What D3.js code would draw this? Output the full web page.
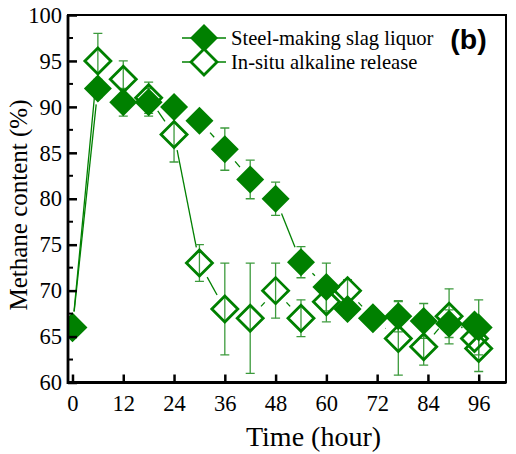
<!DOCTYPE html>
<html>
<head>
<meta charset="utf-8">
<script src="https://cdn.jsdelivr.net/npm/d3@7"></script>
<style>
  body { margin: 0; background: #fff; }
  svg { display: block; }
  text { font-family: "Liberation Serif", "Times New Roman", serif; fill: #000; }
</style>
</head>
<body>
<svg width="516" height="454"></svg>
<script>
// steel-making slag liquor (filled diamonds)
const slagTime = [0, 6, 12, 18, 24, 30, 36, 42, 48, 54, 60, 65, 71, 77, 83, 89, 95, 96];
const slagValue = [66, 92, 90.5, 90.5, 90, 88.5, 85.4, 82.1, 80, 73.1, 70.4, 68, 67, 67.2, 66.7, 66.4, 66.3, 66];
const slagErr = [1, 1, 1.5, 1.5, 0.8, 0.8, 2.3, 2.1, 1.8, 1.7, 2.6, 1, 0.5, 1.7, 1.9, 1.5, 0, 3];

// in-situ alkaline release (hollow diamonds)
const alkTime = [0, 6, 12, 18, 24, 30, 36, 42, 48, 54, 60, 65, 71, 77, 83, 89, 95, 96];
const alkValue = [66, 95, 93, 91, 87, 73, 68, 67, 70, 67, 68.8, 70, 67, 64.8, 63.9, 67.2, 64.8, 63.7];
const alkErr = [1, 3, 2, 1.7, 3, 2, 5, 6, 3, 2, 2.2, 1.2, 0.5, 4, 2, 3, 0, 2.5];

const xTicks = [0, 12, 24, 36, 48, 60, 72, 84, 96];
const yTicks = [60, 65, 70, 75, 80, 85, 90, 95, 100];
const yMinor = [62.5, 67.5, 72.5, 77.5, 82.5, 87.5, 92.5, 97.5];
const legendLabels = ['Steel-making slag liquor', 'In-situ alkaline release'];

const green = '#008000';
const errGreen = '#3c9a3c';
const plotLeft = 68;
const plotRight = 506;
const plotTop = 15;
const plotBottom = 382.5;
const half = 14;

const svg = d3.select('svg');
const x = d3.scaleLinear().domain([-1.06, 102.45]).range([plotLeft, plotRight]);
const y = d3.scaleLinear().domain([60, 100]).range([plotBottom, plotTop]);

const slag = slagTime.map((t, i) => ({t, v: slagValue[i], e: slagErr[i]}));
const alk = alkTime.map((t, i) => ({t, v: alkValue[i], e: alkErr[i]}));

const diamond = (cx, cy, r) => `M${cx},${cy - r}L${cx + r},${cy}L${cx},${cy + r}L${cx - r},${cy}Z`;

svg.append('clipPath')
  .attr('id', 'plot-clip')
  .append('rect')
  .attr('x', plotLeft)
  .attr('y', plotTop)
  .attr('width', plotRight - plotLeft)
  .attr('height', plotBottom - plotTop);

const plot = svg.append('g').attr('clip-path', 'url(#plot-clip)');

// connecting lines, with a gap left around each symbol
function drawLine(data) {
  const gap = 16;
  for (let i = 1; i < data.length; i++) {
    const x1 = x(data[i - 1].t);
    const y1 = y(data[i - 1].v);
    const x2 = x(data[i].t);
    const y2 = y(data[i].v);
    const len = Math.hypot(x2 - x1, y2 - y1);
    if (len <= gap * 2) continue;
    const ux = (x2 - x1) / len;
    const uy = (y2 - y1) / len;
    plot.append('line')
      .attr('x1', x1 + ux * gap)
      .attr('y1', y1 + uy * gap)
      .attr('x2', x2 - ux * gap)
      .attr('y2', y2 - uy * gap)
      .attr('stroke', green)
      .attr('stroke-width', 1.3);
  }
}

function drawErrors(data) {
  const g = plot.append('g')
    .attr('stroke', errGreen)
    .attr('stroke-width', 1.3);
  data.filter(d => d.e > 0).forEach((d) => {
    const cx = x(d.t);
    g.append('line')
      .attr('x1', cx).attr('x2', cx)
      .attr('y1', y(d.v - d.e)).attr('y2', y(d.v + d.e));
    [d.v - d.e, d.v + d.e].forEach((v) => {
      g.append('line')
        .attr('x1', cx - 4.5).attr('x2', cx + 4.5)
        .attr('y1', y(v)).attr('y2', y(v));
    });
  });
}

drawLine(slag);
drawLine(alk);
drawErrors(slag);
drawErrors(alk);

plot.selectAll('.slag')
  .data(slag)
  .enter()
  .append('path')
  .attr('class', 'slag')
  .attr('d', d => diamond(x(d.t), y(d.v), half))
  .attr('fill', green);

plot.selectAll('.alk')
  .data(alk)
  .enter()
  .append('path')
  .attr('class', 'alk')
  .attr('d', d => diamond(x(d.t), y(d.v), half - 1))
  .attr('fill', 'none')
  .attr('stroke', green)
  .attr('stroke-width', 2.8);

// frame
svg.append('rect')
  .attr('x', plotLeft)
  .attr('y', plotTop)
  .attr('width', plotRight - plotLeft)
  .attr('height', plotBottom - plotTop)
  .attr('fill', 'none')
  .attr('stroke', '#000')
  .attr('stroke-width', 2);
svg.append('path')
  .attr('d', `M${plotLeft},${plotTop}V${plotBottom}H${plotRight}`)
  .attr('fill', 'none')
  .attr('stroke', '#000')
  .attr('stroke-width', 2.8);

// ticks pointing inwards
const yAxis = d3.axisLeft(y).tickValues(yTicks).tickSize(-9).tickPadding(15).tickFormat(d3.format('d'));
const gy = svg.append('g').attr('transform', `translate(${plotLeft},0)`).call(yAxis);
gy.select('.domain').remove();
gy.selectAll('.tick line').attr('stroke-width', 2.5);
gy.selectAll('.tick text').style('font-size', '22.5px').attr('x', -6);

svg.append('g')
  .selectAll('line')
  .data(yMinor)
  .enter()
  .append('line')
  .attr('x1', plotLeft)
  .attr('x2', plotLeft + 5)
  .attr('y1', d => y(d))
  .attr('y2', d => y(d))
  .attr('stroke', '#000')
  .attr('stroke-width', 2);

const xAxis = d3.axisBottom(x).tickValues(xTicks).tickSize(-8).tickPadding(12);
const gx = svg.append('g').attr('transform', `translate(0,${plotBottom})`).call(xAxis);
gx.select('.domain').remove();
gx.selectAll('.tick line').attr('stroke-width', 2.5);
gx.selectAll('.tick text').style('font-size', '22.5px').attr('y', 13);

svg.selectAll('.tick text').style('font-family', '"Liberation Serif", "Times New Roman", serif').attr('fill', '#000');

// axis titles
svg.append('text')
  .attr('x', 313.5)
  .attr('y', 446)
  .attr('text-anchor', 'middle')
  .style('font-size', '28px')
  .text('Time (hour)');
svg.append('text')
  .attr('transform', 'translate(27,205) rotate(-90)')
  .attr('text-anchor', 'middle')
  .style('font-size', '25px')
  .text('Methane content (%)');

// legend
const legendRows = [38, 62];
legendRows.forEach((ly, i) => {
  svg.append('line')
    .attr('x1', 182).attr('x2', 226)
    .attr('y1', ly).attr('y2', ly)
    .attr('stroke', green)
    .attr('stroke-width', 1.3);
  svg.append('path')
    .attr('d', diamond(204, ly, i === 0 ? half : half - 1))
    .attr('fill', i === 0 ? green : '#fff')
    .attr('stroke', i === 0 ? 'none' : green)
    .attr('stroke-width', 2.8);
  svg.append('text')
    .attr('x', 231)
    .attr('y', ly + 7)
    .style('font-size', '20.6px')
    .text(legendLabels[i]);
});

svg.append('text')
  .attr('x', 468.5)
  .attr('y', 49)
  .attr('text-anchor', 'middle')
  .style('font-family', '"Liberation Sans", Arial, sans-serif')
  .style('font-weight', 'bold')
  .style('font-size', '28.5px')
  .text('(b)');
</script>
</body>
</html>
